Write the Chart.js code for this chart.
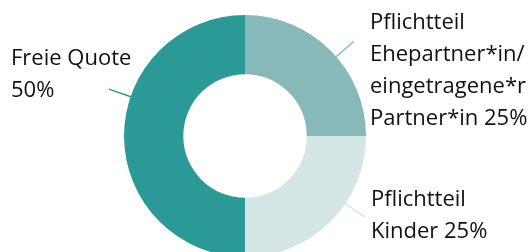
<!DOCTYPE html>
<html>
<head>
<meta charset="utf-8">
<script src="https://cdn.jsdelivr.net/npm/chart.js@4"></script>
<style>
  html, body { margin: 0; padding: 0; background: #fff; overflow: hidden; }
  #wrap { width: 532px; height: 252px; position: relative; }
</style>
</head>
<body>
<div id="wrap"><canvas id="myChart"></canvas></div>
<script>
// slices, clockwise from 12 o'clock
const categories = ["Pflichtteil Ehepartner*in/eingetragene*r Partner*in", "Pflichtteil Kinder", "Freie Quote"];
const shares = [25, 25, 50];
const sliceColors = ["#88b9b9", "#d3e5e5", "#2b9996"];

// label text lines as they are broken in the picture
const labelLines = [
  ["Pflichtteil", "Ehepartner*in/", "eingetragene*r", "Partner*in 25%"],
  ["Pflichtteil", "Kinder 25%"],
  ["Freie Quote", "50%"],
];

// where each label sits (x of text, baseline of first line) and the angle of its leader line
const labelPos = [
  { x: 370, y: 29, angle: -41 },
  { x: 371, y: 206, angle: 34 },
  { x: 11, y: 65, angle: 199 },
];

const labelPlugin = {
  id: "sideLabels",
  afterDraw(chart) {
    const ctx = chart.ctx;
    const arcs = chart.getDatasetMeta(0).data;
    ctx.save();
    ctx.font = "22px 'Open Sans'";
    ctx.textBaseline = "alphabetic";
    ctx.textAlign = "left";
    arcs.forEach((arc, i) => {
      const pos = labelPos[i];
      // leader line pointing out from the ring
      const a = pos.angle * Math.PI / 180;
      const r0 = arc.outerRadius - 1;
      const r1 = arc.outerRadius + 23;
      ctx.strokeStyle = sliceColors[i];
      ctx.lineWidth = 1.5;
      ctx.beginPath();
      ctx.moveTo(arc.x + Math.cos(a) * r0, arc.y + Math.sin(a) * r0);
      ctx.lineTo(arc.x + Math.cos(a) * r1, arc.y + Math.sin(a) * r1);
      ctx.stroke();

      ctx.fillStyle = "#111111";
      labelLines[i].forEach((line, j) => {
        ctx.fillText(line, pos.x, pos.y + j * 32);
      });
    });
    ctx.restore();
  },
};

new Chart("myChart", {
  type: "doughnut",
  data: {
    labels: categories,
    datasets: [{
      data: shares,
      backgroundColor: sliceColors,
      borderWidth: 0,
      radius: 121,
    }],
  },
  options: {
    responsive: true,
    maintainAspectRatio: false,
    animation: false,
    cutout: "51%",
    layout: { padding: { left: 124, right: 166, top: 20, bottom: 0 } },
    plugins: {
      legend: { display: false },
      tooltip: { enabled: false },
    },
  },
  plugins: [labelPlugin],
});
</script>
</body>
</html>
